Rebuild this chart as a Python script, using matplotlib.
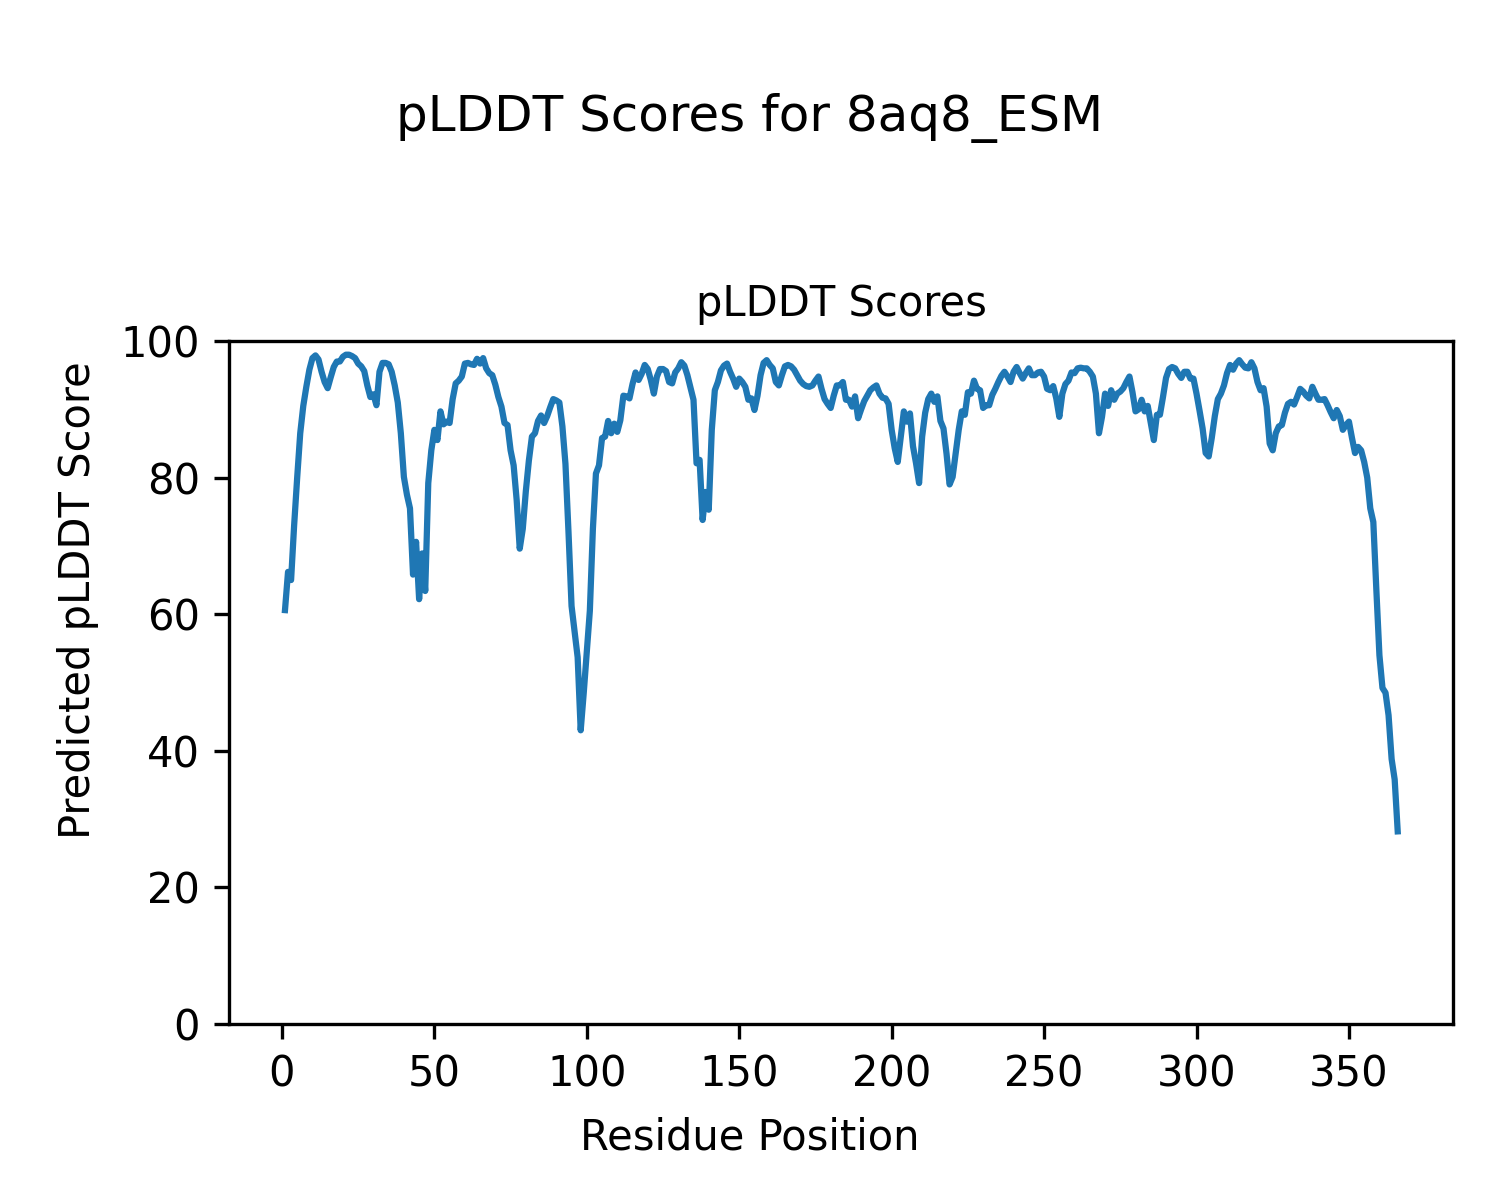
import matplotlib
matplotlib.use("Agg")
import matplotlib.pyplot as plt

title = "pLDDT Scores for 8aq8_ESM"
subtitle = "pLDDT Scores"
xlabel = "Residue Position"
ylabel = "Predicted pLDDT Score"

plddt = [
    60.6, 66.2, 65.0, 73.0, 80.0, 86.5, 90.5, 93.3, 95.8, 97.5,
    97.9, 97.3, 95.5, 94.0, 93.1, 94.7, 96.2, 97.0, 97.0, 97.7,
    98.0, 98.0, 97.8, 97.5, 96.7, 96.3, 95.6, 93.5, 91.8, 92.2,
    90.6, 95.5, 96.8, 96.8, 96.6, 95.5, 93.5, 91.0, 86.5, 80.1,
    77.5, 75.5, 65.8, 70.6, 62.2, 68.9, 63.4, 79.2, 84.0, 87.0,
    85.5, 89.7, 87.8, 88.2, 88.0, 91.5, 93.8, 94.2, 94.8, 96.7,
    96.8, 96.6, 96.5, 97.4, 96.7, 97.5, 96.0, 95.3, 95.0, 93.6,
    91.8, 90.4, 88.0, 87.7, 84.0, 81.8, 76.7, 69.6, 72.5, 78.0,
    82.5, 86.0, 86.5, 88.3, 89.1, 88.0, 89.0, 90.3, 91.5, 91.3,
    91.0, 87.5, 82.0, 72.0, 61.2, 57.5, 53.7, 43.0, 48.5, 54.5,
    60.5, 72.5, 80.6, 81.8, 85.8, 86.0, 88.3, 86.5, 87.9, 86.7,
    88.4, 92.0, 91.9, 91.6, 93.7, 95.4, 94.3, 95.2, 96.5, 95.9,
    94.3, 92.3, 94.8, 95.9, 95.9, 95.6, 94.0, 93.8, 95.4, 96.0,
    96.9, 96.4, 95.0, 93.2, 91.4, 82.1, 82.6, 73.8, 77.9, 75.3,
    87.0, 92.8, 94.0, 95.7, 96.4, 96.7, 95.5, 94.5, 93.3, 94.5,
    94.0, 93.3, 91.4, 91.6, 89.9, 92.0, 95.0, 96.8, 97.2, 96.5,
    96.0, 94.0, 93.5, 95.0, 96.3, 96.5, 96.3, 95.8, 95.0, 94.2,
    93.7, 93.4, 93.3, 93.5, 94.2, 94.8, 93.0, 91.5, 90.8, 90.2,
    92.0, 93.5, 93.5, 94.0, 91.4, 91.4, 90.4, 91.9, 88.7, 90.0,
    91.2, 92.0, 92.8, 93.2, 93.5, 92.3, 91.7, 91.6, 90.8, 87.0,
    84.3, 82.3, 86.0, 89.7, 88.2, 89.4, 84.6, 82.1, 79.2, 86.0,
    89.5, 91.5, 92.3, 91.1, 91.9, 88.3, 87.2, 83.5, 79.0, 80.1,
    83.5, 87.0, 89.7, 89.2, 92.5, 92.3, 94.2, 93.0, 92.8, 90.2,
    90.6, 90.6, 92.1, 93.0, 94.0, 94.9, 95.5, 94.8, 94.0, 95.5,
    96.2, 95.3, 94.5, 95.3, 96.0, 95.0, 95.0, 95.4, 95.5, 94.8,
    93.0, 92.8, 93.4, 91.6, 88.9, 92.3, 93.7, 94.2, 95.4, 95.3,
    96.0, 96.1, 96.0, 96.0, 95.5, 94.8, 92.3, 86.5, 88.9, 92.3,
    90.5, 92.8, 91.4, 92.3, 92.6, 93.1, 94.0, 94.8, 92.5, 89.7,
    90.0, 91.4, 89.7, 90.5, 88.0, 85.5, 89.2, 89.2, 91.8, 94.6,
    95.9, 96.2, 96.0, 95.2, 94.6, 95.5, 95.5, 94.5, 94.5, 92.3,
    89.8, 87.2, 83.6, 83.1, 85.8, 89.0, 91.5, 92.3, 93.5, 95.3,
    96.5, 95.8, 96.7, 97.2, 96.6, 96.1, 96.0, 96.9, 96.0, 94.0,
    92.8, 93.1, 90.4, 85.0, 84.0, 86.5, 87.5, 87.7, 89.5, 90.8,
    91.1, 90.7, 91.8, 93.0, 92.6, 92.0, 91.6, 93.3, 92.3, 91.4,
    91.4, 91.5, 90.6, 89.6, 88.7, 89.9, 89.0, 87.0, 87.7, 88.2,
    85.8, 83.6, 84.5, 84.0, 82.3, 80.0, 75.5, 73.5, 63.5, 54.0,
    49.2, 48.5, 45.2, 38.8, 35.8, 28.2,
]
residues = list(range(1, len(plddt) + 1))

fig = plt.figure(figsize=(5, 4), dpi=300)
ax = fig.add_axes([0.1529, 0.1467, 0.9689 - 0.1529, 0.7158 - 0.1467])
ax.plot(residues, plddt, color="#1f77b4", linewidth=1.5)
ax.set_ylim(0, 100)
ax.set_title(subtitle, fontsize=10)
fig.supxlabel(xlabel, fontsize=10, x=0.5, y=0.0517, va="center")
fig.supylabel(ylabel, fontsize=10, x=0.052, y=0.5, ha="center", va="center")
fig.suptitle(title, fontsize=12, y=0.902, va="center")
fig.savefig("out.png", dpi=300)
